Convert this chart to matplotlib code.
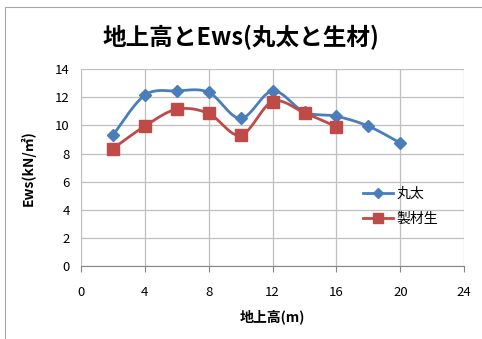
import numpy as np
import matplotlib.pyplot as plt
from matplotlib.patches import Rectangle

plt.rcParams['font.family'] = ['Noto Sans CJK JP', 'DejaVu Sans']

# 地上高 (m)
height_maruta = [2, 4, 6, 8, 10, 12, 14, 16, 18, 20]
height_seizai = [2, 4, 6, 8, 10, 12, 14, 16]
# Ews (kN/㎡)
ews_maruta = [9.3, 12.15, 12.45, 12.35, 10.5, 12.45, 10.95, 10.65, 9.95, 8.75]
ews_seizai = [8.35, 9.95, 11.15, 10.85, 9.3, 11.7, 10.9, 9.9]

series_names = ['丸太', '製材生']
x_ticks = [0, 4, 8, 12, 16, 20, 24]
y_ticks = [0, 2, 4, 6, 8, 10, 12, 14]


def smooth(xs, ys, n=20):
    # Catmull-Rom style smoothing like spreadsheet "smoothed line"
    xs = np.asarray(xs, float)
    ys = np.asarray(ys, float)
    px, py = [], []
    for i in range(len(xs) - 1):
        x0, y0 = (xs[i - 1], ys[i - 1]) if i > 0 else (xs[i], ys[i])
        x1, y1 = xs[i], ys[i]
        x2, y2 = xs[i + 1], ys[i + 1]
        x3, y3 = (xs[i + 2], ys[i + 2]) if i + 2 < len(xs) else (x2, y2)
        c1 = (x1 + (x2 - x0) / 6, y1 + (y2 - y0) / 6)
        c2 = (x2 - (x3 - x1) / 6, y2 - (y3 - y1) / 6)
        t = np.linspace(0, 1, n)
        bx = (1 - t) ** 3 * x1 + 3 * (1 - t) ** 2 * t * c1[0] + 3 * (1 - t) * t ** 2 * c2[0] + t ** 3 * x2
        by = (1 - t) ** 3 * y1 + 3 * (1 - t) ** 2 * t * c1[1] + 3 * (1 - t) * t ** 2 * c2[1] + t ** 3 * y2
        px.extend(bx)
        py.extend(by)
    return px, py


fig = plt.figure(figsize=(4.82, 3.39), dpi=100)
fig.patch.set_facecolor('white')

# chart area frame (runs off the right/bottom edge)
frame = Rectangle((0.011, -0.1), 1.2, 1.079, transform=fig.transFigure,
                  facecolor='none', edgecolor='#a6a6a6', lw=0.8)
fig.patches.append(frame)

ax = fig.add_axes([0.168, 0.215, 0.795, 0.581])

blue = '#4a7ebb'
red = '#be4b48'

sx, sy = smooth(height_maruta, ews_maruta)
ax.plot(sx, sy, color=blue, lw=2.0, zorder=3)
ax.plot(height_maruta, ews_maruta, ls='none', marker='D', ms=6, color=blue, zorder=4)
sx, sy = smooth(height_seizai, ews_seizai)
ax.plot(sx, sy, color=red, lw=2.0, zorder=3)
ax.plot(height_seizai, ews_seizai, ls='none', marker='s', ms=8, color=red, zorder=4)

# legend entries
ax.plot([], [], color=blue, lw=2.0, marker='D', ms=5, label=series_names[0])
ax.plot([], [], color=red, lw=2.0, marker='s', ms=7, label=series_names[1])
ax.legend(loc='upper left', bbox_to_anchor=(0.721, 0.43), frameon=False, fontsize=10,
          handlelength=2.2, handletextpad=0.2, labelspacing=0.75, borderaxespad=0)

ax.set_xlim(0, 24)
ax.set_ylim(0, 14)
ax.set_xticks(x_ticks)
ax.set_yticks(y_ticks)
ax.grid(True, color='#bfbfbf', lw=0.9)
ax.set_axisbelow(True)
for s in ['top', 'right', 'left']:
    ax.spines[s].set_visible(False)
ax.spines['bottom'].set_color('#868686')
ax.tick_params(axis='x', length=4, color='#868686', labelsize=9.5, pad=10)
ax.tick_params(axis='y', length=0, labelsize=9.5, pad=8)

ax.set_xlabel('地上高(m)', fontsize=10, fontweight='bold', labelpad=8)
ax.set_ylabel('Ews(kN/㎡)', fontsize=10, fontweight='bold', labelpad=14)

fig.text(0.5, 0.89, '地上高とEws(丸太と生材)', ha='center', va='center',
         fontsize=17, fontweight='bold')

fig.savefig('out.png', dpi=100)
